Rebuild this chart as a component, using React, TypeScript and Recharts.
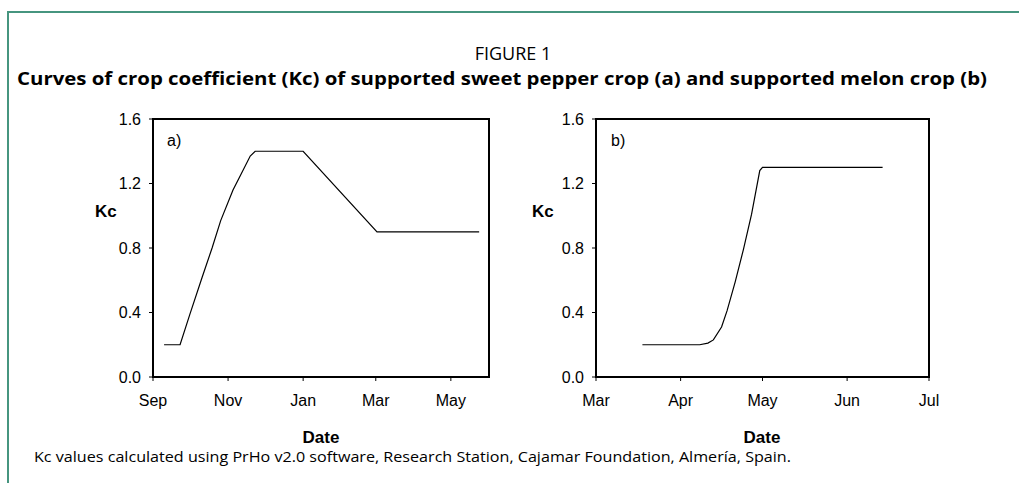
import { LineChart, Line, XAxis, YAxis, ReferenceArea } from 'recharts';

// sweet pepper (a): season Sep 2006 - Jun 2007
const pepperDates = [
  '2006-09-10', '2006-09-23', '2006-10-01', '2006-10-11', '2006-10-19', '2006-10-26',
  '2006-11-05', '2006-11-11', '2006-11-19', '2006-11-23', '2007-01-01', '2007-03-02', '2007-05-24',
];
const pepperKc = [0.2, 0.2, 0.39, 0.62, 0.8, 0.97, 1.16, 1.25, 1.37, 1.4, 1.4, 0.9, 0.9];
const pepperTickDates = ['2006-09-01', '2006-11-01', '2007-01-01', '2007-03-01', '2007-05-01'];
const pepperTickLabels = ['Sep', 'Nov', 'Jan', 'Mar', 'May'];
const pepperStart = '2006-09-01';
const pepperEnd = '2007-06-01';

// melon (b): season Mar - Jul 2007
const melonDates = [
  '2007-03-18', '2007-04-08', '2007-04-11', '2007-04-13', '2007-04-16', '2007-04-18',
  '2007-04-21', '2007-04-24', '2007-04-27', '2007-04-30', '2007-05-01', '2007-06-14',
];
const melonKc = [0.2, 0.2, 0.21, 0.23, 0.31, 0.41, 0.59, 0.79, 1.01, 1.28, 1.3, 1.3];
const melonTickDates = ['2007-03-01', '2007-04-01', '2007-05-01', '2007-06-01', '2007-07-01'];
const melonTickLabels = ['Mar', 'Apr', 'May', 'Jun', 'Jul'];
const melonStart = '2007-03-01';
const melonEnd = '2007-07-01';

const kcTicks = [0, 0.4, 0.8, 1.2, 1.6];

const DAY = 86400000;
const dayOf = (d: string, start: string) => (Date.parse(d) - Date.parse(start)) / DAY;

const FRAME = '#46957f';
const AXIS_FONT = '"Liberation Sans", Arial, sans-serif';
const TEXT_FONT = '"Open Sans", "Noto Sans", sans-serif';

interface PanelProps {
  dates: string[];
  kc: number[];
  start: string;
  end: string;
  tickDates: string[];
  tickLabels: string[];
  left: number;
  yAxisWidth: number;
}

function KcPanel({ dates, kc, start, end, tickDates, tickLabels, left, yAxisWidth }: PanelProps) {
  const data = dates.map((d, i) => ({ day: dayOf(d, start), kc: kc[i] }));
  const ticks = tickDates.map((d) => dayOf(d, start));
  const domainEnd = dayOf(end, start);
  const label = (v: number) => {
    const i = ticks.indexOf(v);
    return i >= 0 ? tickLabels[i] : '';
  };
  const tickStyle = { fill: '#000', fontSize: 16, fontFamily: AXIS_FONT };

  return (
    <div style={{ position: 'absolute', left, top: 100 }}>
      <LineChart width={420} height={360} data={data} margin={{ top: 19, right: 11, bottom: 0, left: 0 }}>
        <XAxis
          dataKey="day"
          type="number"
          domain={[0, domainEnd]}
          ticks={ticks}
          tickFormatter={label}
          height={83}
          tick={tickStyle}
          tickSize={4}
          tickMargin={14}
          axisLine={{ stroke: '#000', strokeWidth: 2 }}
          tickLine={{ stroke: '#000', strokeWidth: 1 }}
          interval={0}
        />
        <YAxis
          type="number"
          domain={[0, 1.6]}
          ticks={kcTicks}
          tickFormatter={(v: number) => v.toFixed(1)}
          width={yAxisWidth}
          tick={tickStyle}
          tickSize={4}
          tickMargin={8}
          axisLine={{ stroke: '#000', strokeWidth: 2 }}
          tickLine={{ stroke: '#000', strokeWidth: 1 }}
          interval={0}
        />
        {/* plot frame */}
        <ReferenceArea
          x1={0}
          x2={domainEnd}
          y1={0}
          y2={1.6}
          fill="none"
          fillOpacity={0}
          stroke="#000"
          strokeWidth={2}
          strokeOpacity={1}
        />
        <Line
          type="linear"
          dataKey="kc"
          stroke="#000"
          strokeWidth={1.2}
          dot={false}
          activeDot={false}
          isAnimationActive={false}
        />
      </LineChart>
    </div>
  );
}

export default function App() {
  return (
    <div
      style={{
        position: 'absolute',
        left: 0,
        top: 0,
        width: 1019,
        height: 483,
        background: '#fff',
        overflow: 'hidden',
      }}
    >
      <div style={{ position: 'absolute', left: 7, top: 11, width: 1012, height: 2, background: FRAME }} />
      <div style={{ position: 'absolute', left: 7, top: 11, width: 2, height: 472, background: FRAME }} />

      <KcPanel
        dates={pepperDates}
        kc={pepperKc}
        start={pepperStart}
        end={pepperEnd}
        tickDates={pepperTickDates}
        tickLabels={pepperTickLabels}
        left={80}
        yAxisWidth={73}
      />
      <KcPanel
        dates={melonDates}
        kc={melonKc}
        start={melonStart}
        end={melonEnd}
        tickDates={melonTickDates}
        tickLabels={melonTickLabels}
        left={520}
        yAxisWidth={76}
      />

      <svg
        width={1019}
        height={483}
        style={{ position: 'absolute', left: 0, top: 0, pointerEvents: 'none' }}
      >
        <text x={513} y={60} textAnchor="middle" fontFamily={TEXT_FONT} fontSize={18} fill="#000">
          FIGURE 1
        </text>
        <text
          x={17}
          y={85}
          fontFamily={TEXT_FONT}
          fontSize={18}
          fontWeight="bold"
          fill="#000"
          textLength={970}
          lengthAdjust="spacingAndGlyphs"
        >
          Curves of crop coefficient (Kc) of supported sweet pepper crop (a) and supported melon crop (b)
        </text>

        <text x={95} y={217} fontFamily={AXIS_FONT} fontSize={17} fontWeight="bold" fill="#000">Kc</text>
        <text x={532} y={217} fontFamily={AXIS_FONT} fontSize={17} fontWeight="bold" fill="#000">Kc</text>
        <text x={167} y={146} fontFamily={AXIS_FONT} fontSize={16} fill="#000">a)</text>
        <text x={611} y={146} fontFamily={AXIS_FONT} fontSize={16} fill="#000">b)</text>
        <text x={321} y={443} textAnchor="middle" fontFamily={AXIS_FONT} fontSize={17} fontWeight="bold" fill="#000">
          Date
        </text>
        <text x={762} y={443} textAnchor="middle" fontFamily={AXIS_FONT} fontSize={17} fontWeight="bold" fill="#000">
          Date
        </text>

        <text
          x={34}
          y={462}
          fontFamily={TEXT_FONT}
          fontSize={14}
          fill="#000"
          textLength={757}
          lengthAdjust="spacingAndGlyphs"
        >
          Kc values calculated using PrHo v2.0 software, Research Station, Cajamar Foundation, Almería, Spain.
        </text>
      </svg>
    </div>
  );
}
